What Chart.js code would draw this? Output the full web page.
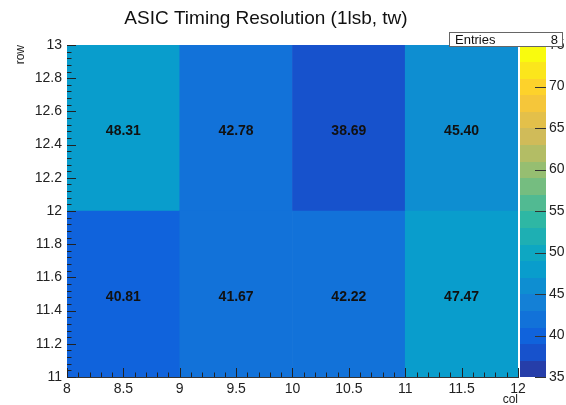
<!DOCTYPE html>
<html>
<head>
<meta charset="utf-8">
<script src="https://cdn.jsdelivr.net/npm/chart.js@4.4.1/dist/chart.umd.min.js"></script>
<style>
  html, body { margin: 0; padding: 0; background: #fff; }
  canvas { display: block; }
</style>
</head>
<body>
<canvas id="timing" width="566" height="405"></canvas>
<script>
// bin centres along col, bin edges along row
const colCenters = [8.5, 9.5, 10.5, 11.5];
const lowerRow = [11, 12];
const upperRow = [12, 13];
// timing resolution per cell
const lowerRowValues = [40.81, 41.67, 42.22, 47.47];
const upperRowValues = [48.31, 42.78, 38.69, 45.40];
// colour axis
const zMin = 35;
const zMax = 75;
const nContours = 20;

const titleText = 'ASIC Timing Resolution (1lsb, tw)';
const FONT = '"Liberation Sans", Arial, Helvetica, sans-serif';

// ROOT kBird palette
const birdStops = [0, 0.125, 0.25, 0.375, 0.5, 0.625, 0.75, 0.875, 1];
const birdR = [0.2082, 0.0592, 0.0780, 0.0232, 0.1802, 0.5301, 0.8186, 0.9956, 0.9764];
const birdG = [0.1664, 0.3599, 0.5041, 0.6419, 0.7178, 0.7492, 0.7328, 0.7862, 0.9832];
const birdB = [0.5293, 0.8684, 0.8385, 0.7914, 0.6425, 0.4662, 0.3499, 0.1968, 0.0539];

function birdColor(f) {
    f = Math.max(0, Math.min(1, f));
    let k = 0;
    while (k < birdStops.length - 2 && f > birdStops[k + 1]) k++;
    const t = (f - birdStops[k]) / (birdStops[k + 1] - birdStops[k]);
    const c = arr => Math.round(255 * (arr[k] + t * (arr[k + 1] - arr[k])));
    return `rgb(${c(birdR)}, ${c(birdG)}, ${c(birdB)})`;
}

// colour of contour band i, same picking as THistPainter
function bandColor(i) {
    return birdColor((i + 0.99) / nContours);
}

function zColor(v) {
    let i = Math.floor((v - zMin) / (zMax - zMin) * nContours);
    i = Math.max(0, Math.min(nContours - 1, i));
    return bandColor(i);
}

function rowDataset(label, edges, values) {
    return {
        label: label,
        data: colCenters.map(x => ({ x: x, y: edges })),
        values: values,
        backgroundColor: values.map(zColor),
        borderWidth: 0,
        borderSkipped: false,
        barThickness: 'flex',
        barPercentage: 1,
        categoryPercentage: 1,
        stack: 'cells'
    };
}

// plain numbers on the axes: 8, 8.5, 12.8 ...
const plainNumber = v => String(Number(v.toFixed(2)));

// inward tick marks with secondary divisions, like a ROOT frame
const frameTicks = {
    id: 'frameTicks',
    afterDatasetsDraw(chart) {
        const ctx = chart.ctx;
        const area = chart.chartArea;
        const xs = chart.scales.x, ys = chart.scales.y;
        ctx.save();
        ctx.strokeStyle = '#222';
        ctx.lineWidth = 1;
        ctx.beginPath();
        for (let v = 8; v <= 12.0001; v += 0.1) {
            const px = Math.round(xs.getPixelForValue(v)) + 0.5;
            const major = Math.abs(v * 2 - Math.round(v * 2)) < 1e-6;
            ctx.moveTo(px, area.bottom);
            ctx.lineTo(px, area.bottom - (major ? 9 : 4.5));
        }
        for (let v = 11; v <= 13.0001; v += 0.04) {
            const py = Math.round(ys.getPixelForValue(v)) + 0.5;
            const major = Math.abs(v * 5 - Math.round(v * 5)) < 1e-6;
            ctx.moveTo(area.left, py);
            ctx.lineTo(area.left + (major ? 9 : 4.5), py);
        }
        ctx.stroke();
        ctx.restore();
    }
};

// value written at the centre of each cell
const cellText = {
    id: 'cellText',
    afterDatasetsDraw(chart) {
        const ctx = chart.ctx;
        ctx.save();
        ctx.font = 'bold 14px ' + FONT;
        ctx.fillStyle = '#111';
        ctx.textAlign = 'center';
        ctx.textBaseline = 'middle';
        chart.data.datasets.forEach((ds, i) => {
            chart.getDatasetMeta(i).data.forEach((bar, j) => {
                const p = bar.getProps(['x', 'y', 'base'], true);
                ctx.fillText(ds.values[j].toFixed(2), p.x, (p.y + p.base) / 2 + 3);
            });
        });
        ctx.restore();
    }
};

// palette bar on the z axis, title and stats box
const decorations = {
    id: 'decorations',
    afterDraw(chart) {
        const ctx = chart.ctx;
        const zs = chart.scales.z;
        const x0 = zs.left + 2, x1 = zs.left + 28;
        ctx.save();
        for (let i = 0; i < nContours; i++) {
            const lo = zMin + i * (zMax - zMin) / nContours;
            const hi = zMin + (i + 1) * (zMax - zMin) / nContours;
            const yTop = zs.getPixelForValue(hi);
            const yBot = zs.getPixelForValue(lo);
            ctx.fillStyle = bandColor(i);
            ctx.fillRect(x0, Math.floor(yTop), x1 - x0, Math.ceil(yBot) - Math.floor(yTop));
        }
        ctx.strokeStyle = '#333';
        ctx.lineWidth = 1;
        ctx.beginPath();
        zs.ticks.forEach(t => {
            const py = Math.round(zs.getPixelForValue(t.value)) + 0.5;
            ctx.moveTo(x1, py);
            ctx.lineTo(x1 - 11, py);
        });
        ctx.stroke();

        // title
        ctx.fillStyle = '#111';
        ctx.font = '19px ' + FONT;
        ctx.textAlign = 'center';
        ctx.textBaseline = 'middle';
        ctx.fillText(titleText, 266, 19);

        // stats box
        const entries = lowerRowValues.length + upperRowValues.length;
        ctx.fillStyle = '#fff';
        ctx.fillRect(449, 32, 114, 15);
        ctx.strokeStyle = '#666';
        ctx.strokeRect(449.5, 32.5, 113, 14);
        ctx.fillStyle = '#111';
        ctx.font = '13px ' + FONT;
        ctx.textBaseline = 'middle';
        ctx.textAlign = 'left';
        ctx.fillText('Entries', 455, 40);
        ctx.textAlign = 'right';
        ctx.fillText(String(entries), 558, 40);
        ctx.restore();
    }
};

const tickFont = { family: FONT, size: 14 };

new Chart(document.getElementById('timing'), {
    type: 'bar',
    data: {
        datasets: [
            rowDataset('row 11-12', lowerRow, lowerRowValues),
            rowDataset('row 12-13', upperRow, upperRowValues)
        ]
    },
    options: {
        responsive: false,
        animation: false,
        devicePixelRatio: 1,
        layout: { padding: { top: 45, left: 0, right: 0, bottom: 0 } },
        plugins: {
            legend: { display: false },
            tooltip: { enabled: false }
        },
        scales: {
            x: {
                type: 'linear',
                min: 8,
                max: 12,
                offset: false,
                grid: { display: false, offset: false, drawTicks: false },
                border: { display: true, color: '#333' },
                ticks: { stepSize: 0.5, color: '#222', font: tickFont, padding: 4, maxRotation: 0, autoSkip: false, callback: plainNumber },
                title: { display: true, text: 'col', align: 'end', color: '#222', font: { family: FONT, size: 12, lineHeight: 1 }, padding: { top: 0, bottom: -1 } },
                afterFit(scale) { scale.height = 28; }
            },
            y: {
                type: 'linear',
                min: 11,
                max: 13,
                stacked: false,
                grid: { display: false, drawTicks: false },
                border: { display: true, color: '#333' },
                ticks: { stepSize: 0.2, color: '#222', font: tickFont, padding: 5, autoSkip: false, callback: plainNumber },
                title: { display: true, text: 'row', align: 'end', color: '#222', font: { family: FONT, size: 12 }, padding: { top: 13, bottom: 0 } },
                afterFit(scale) { scale.width = 67; }
            },
            z: {
                type: 'linear',
                position: 'right',
                min: zMin,
                max: zMax,
                // space for the palette bar is kept as (hidden) tick length
                grid: { display: false, drawTicks: true, tickLength: 28 },
                border: { display: false },
                ticks: { stepSize: 5, color: '#222', font: tickFont, padding: 3, autoSkip: false, callback: plainNumber },
                afterFit(scale) { scale.width = 48; }
            }
        }
    },
    plugins: [frameTicks, cellText, decorations]
});
</script>
</body>
</html>
